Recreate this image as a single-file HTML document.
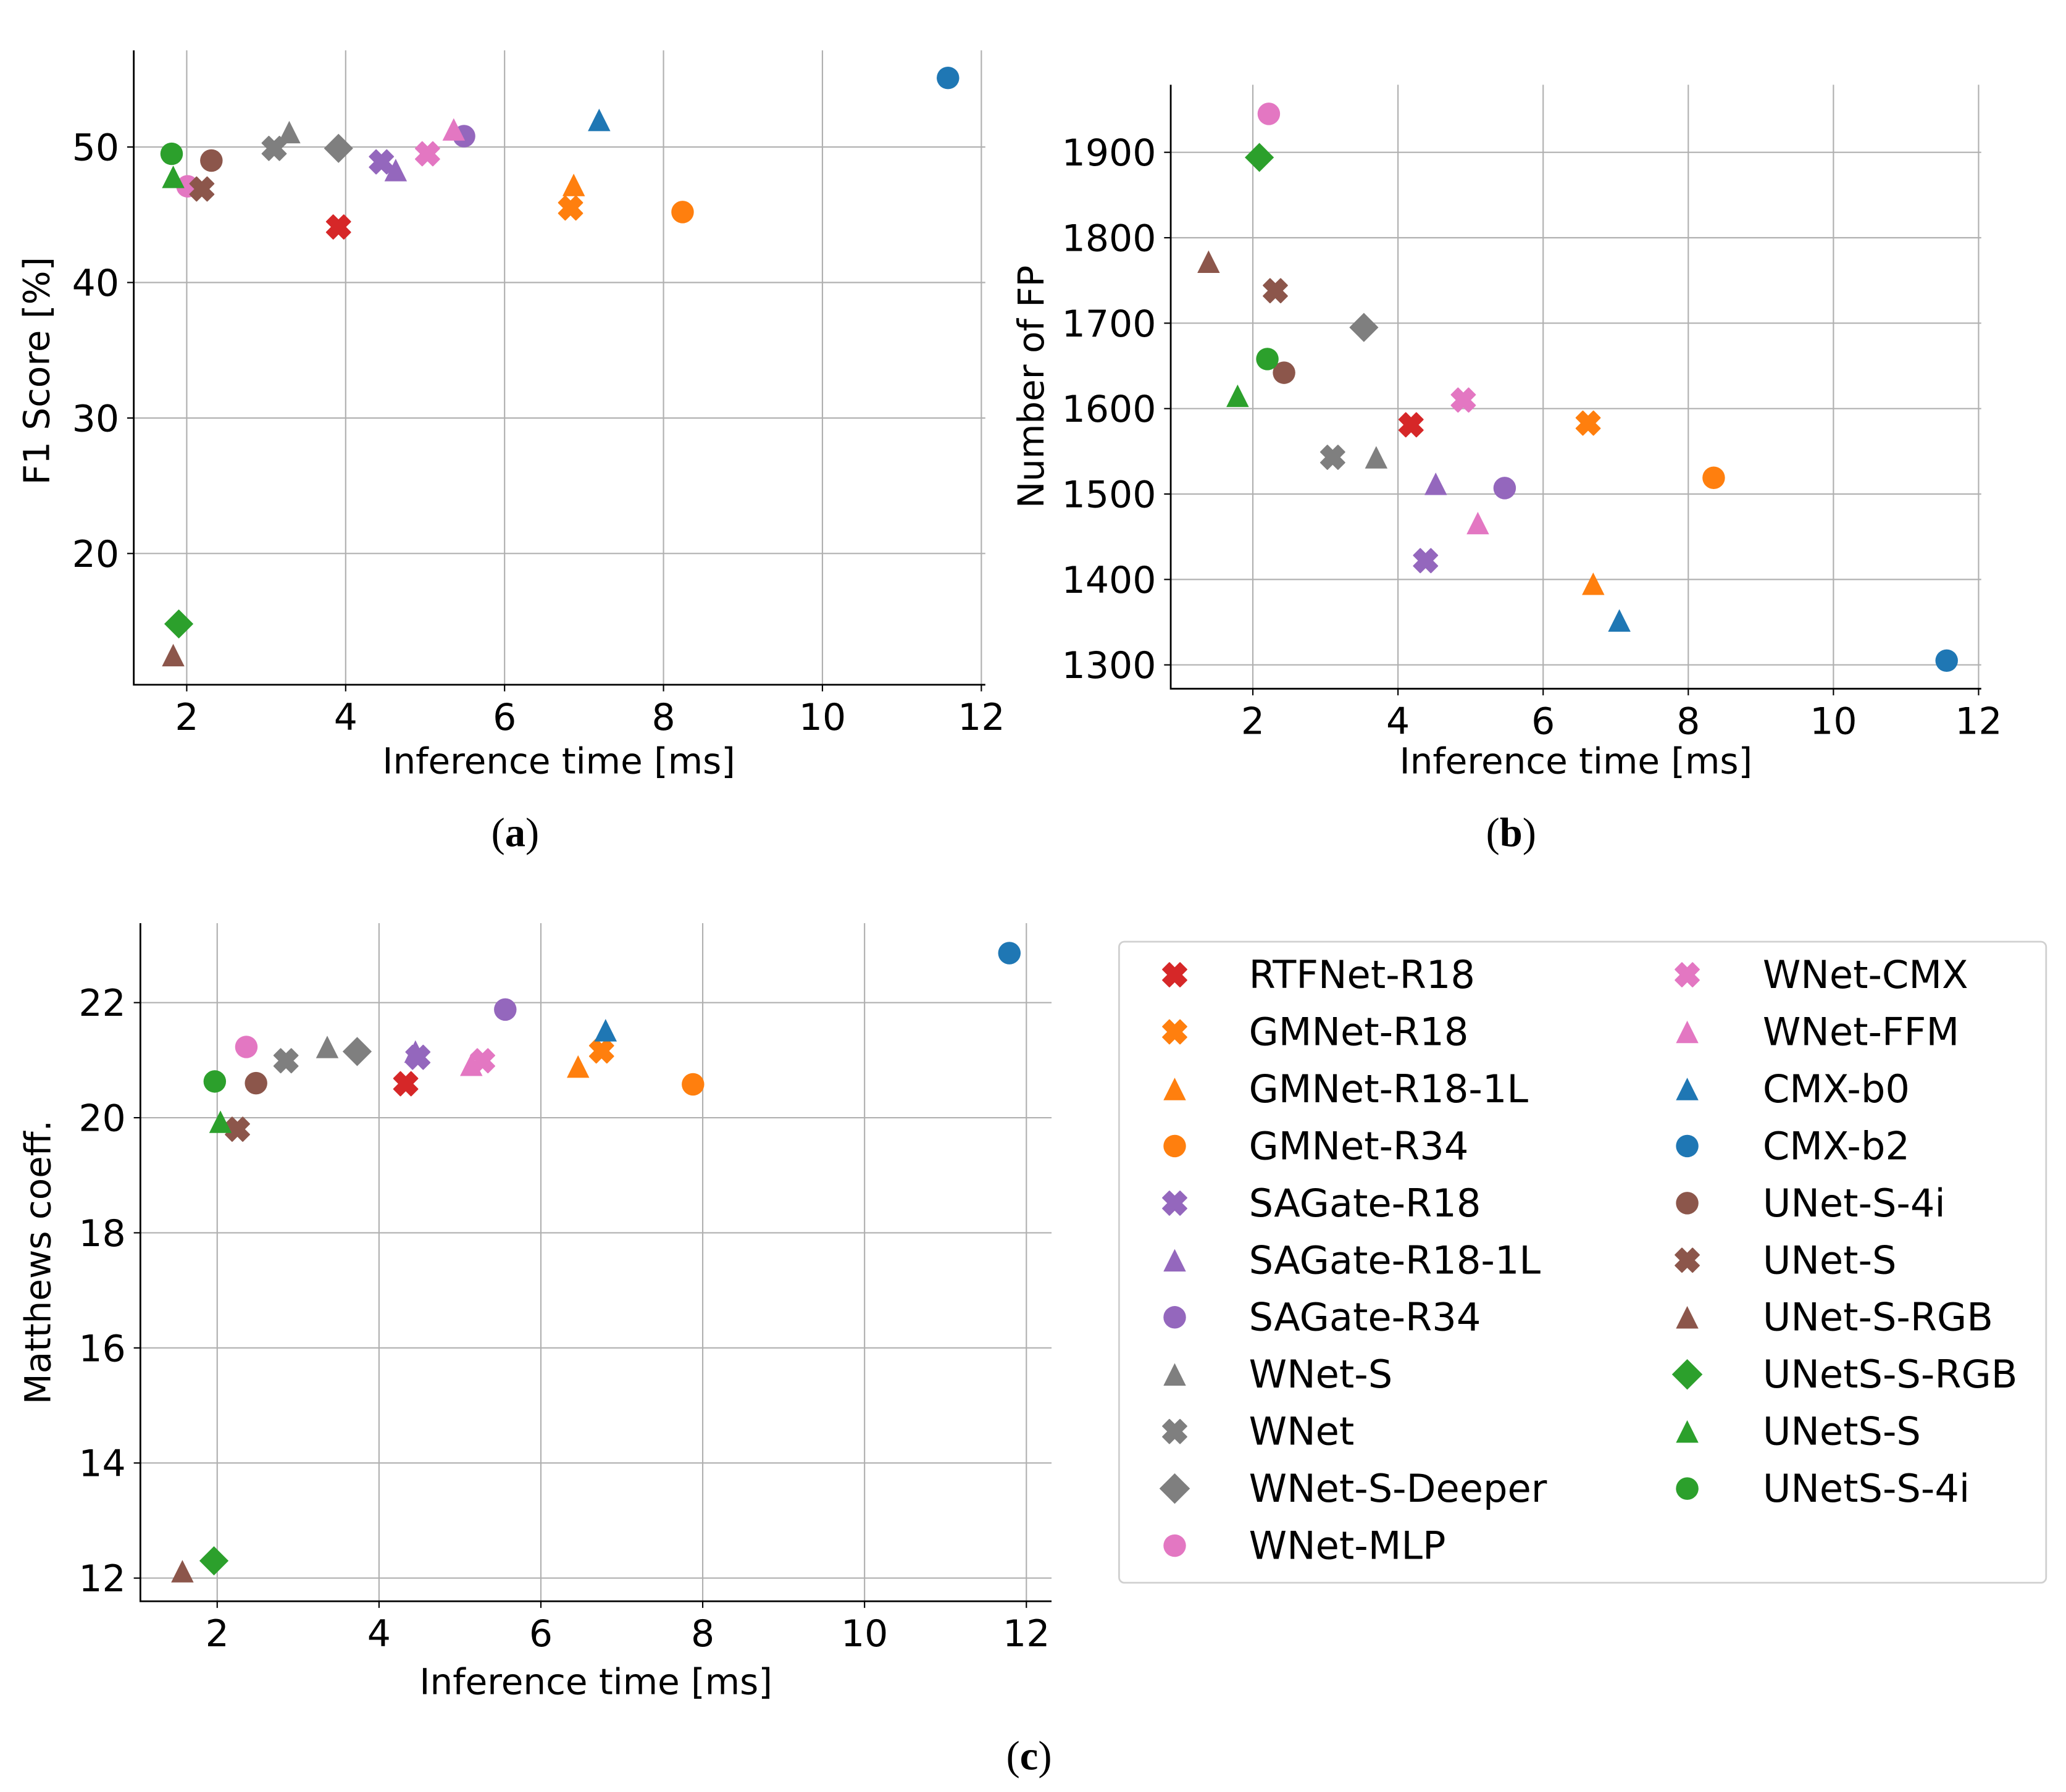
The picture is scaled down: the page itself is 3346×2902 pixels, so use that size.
<!DOCTYPE html>
<html><head><meta charset="utf-8"><style>
html,body{margin:0;padding:0;background:#fff;}
svg{display:block;font-family:"DejaVu Sans","Liberation Sans",sans-serif;}
</style></head><body>
<svg id="fig" width="3346" height="2902" viewBox="0 0 1560 1353" xmlns="http://www.w3.org/2000/svg">
<rect width="1560" height="1353" fill="#fff"/>
<g id="pa"></g>
<g id="pb"></g>
<g id="pc"></g>
<g id="legend"></g>
</svg>
<script>
const models=["RTFNet-R18","GMNet-R18","GMNet-R18-1L","GMNet-R34","SAGate-R18","SAGate-R18-1L","SAGate-R34","WNet-S","WNet","WNet-S-Deeper","WNet-MLP","WNet-CMX","WNet-FFM","CMX-b0","CMX-b2","UNet-S-4i","UNet-S","UNet-S-RGB","UNetS-S-RGB","UNetS-S","UNetS-S-4i"];
const markers=["X","X","^","o","X","^","o","^","X","D","o","X","^","^","o","o","X","^","D","^","o"];
const colors=["#d62728","#ff7f0e","#ff7f0e","#ff7f0e","#9467bd","#9467bd","#9467bd","#7f7f7f","#7f7f7f","#7f7f7f","#e377c2","#e377c2","#e377c2","#1f77b4","#1f77b4","#8c564b","#8c564b","#8c564b","#2ca02c","#2ca02c","#2ca02c"];
const timeA=[3.91,6.83,6.87,8.24,4.45,4.63,5.49,3.29,3.10,3.91,2.01,5.03,5.36,7.19,11.58,2.31,2.19,1.83,1.90,1.83,1.81];
const f1A=[44.1,45.5,47.2,45.2,48.9,48.3,50.8,51.1,49.9,49.9,47.1,49.5,51.3,52.0,55.1,49.0,46.9,12.5,14.8,47.8,49.5];
const timeB=[4.18,6.62,6.69,8.35,4.38,4.52,5.47,3.70,3.10,3.53,2.22,4.90,5.10,7.05,11.56,2.43,2.31,1.39,2.09,1.79,2.20];
const fpB=[1581,1583,1395,1519,1422,1512,1507,1543,1543,1695,1945,1610,1466,1352,1305,1642,1738,1772,1894,1615,1658];
const timeC=[4.33,6.75,6.46,7.88,4.48,4.45,5.56,3.36,2.85,3.73,2.36,5.28,5.14,6.80,11.79,2.48,2.25,1.57,1.96,2.04,1.97];
const mccC=[20.59,21.16,20.89,20.58,21.05,21.15,21.88,21.23,20.99,21.15,21.23,20.99,20.92,21.52,22.86,20.60,19.80,12.12,12.30,19.93,20.63];
const xTicks=[2,4,6,8,10,12];
const yTicksA=[20,30,40,50];
const yTicksB=[1300,1400,1500,1600,1700,1800,1900];
const yTicksC=[12,14,16,18,20,22];

const NS="http://www.w3.org/2000/svg";
function mk(tag,attrs,parent){const e=document.createElementNS(NS,tag);for(const k in attrs)e.setAttribute(k,attrs[k]);parent.appendChild(e);return e;}
function marker(g,m,cx,cy,col,s){
  let e;
  if(m==="o"){e=mk("circle",{cx:cx,cy:cy,r:8.5*s,fill:col},g);}
  else if(m==="^"){const r=8.5*s;e=mk("polygon",{points:`${cx},${cy-r} ${cx-r},${cy+r} ${cx+r},${cy+r}`,fill:col},g);}
  else if(m==="D"){const r=11*s;e=mk("polygon",{points:`${cx},${cy-r} ${cx+r},${cy} ${cx},${cy+r} ${cx-r},${cy}`,fill:col},g);}
  else {const r=9*s,w=5*s;
    const p=[[-r+w,-r],[0,-w],[r-w,-r],[r,-r+w],[w,0],[r,r-w],[r-w,r],[0,w],[-r+w,r],[-r,r-w],[-w,0],[-r,-r+w]];
    e=mk("polygon",{points:p.map(q=>(cx+q[0])+","+(cy+q[1])).join(" "),fill:col,stroke:col,"stroke-width":1,"stroke-linejoin":"round"},g);}
  return e;
}
function panel(gid,cfg){
  const g=document.getElementById(gid);
  const sx=v=>cfg.x0+(v-2)*cfg.xs, sy=v=>cfg.y0+(cfg.yref-v)*cfg.ys;
  xTicks.forEach(t=>{const x=sx(t);
    const l=mk("line",{x1:x,x2:x,y1:cfg.top,y2:cfg.bottom,stroke:"#b0b0b0","stroke-width":1},g);
    
    
    mk("line",{x1:x,x2:x,y1:cfg.bottom,y2:cfg.bottom+5,stroke:"#000","stroke-width":1},g);
    const tx=mk("text",{x:x,y:cfg.bottom+34,"font-size":28,"text-anchor":"middle",fill:"#000"},g);tx.textContent=t;
    
    
  });
  cfg.yt.forEach(t=>{const y=sy(t);
    const l=mk("line",{x1:cfg.left,x2:cfg.right,y1:y,y2:y,stroke:"#b0b0b0","stroke-width":1},g);
    
    
    mk("line",{x1:cfg.left-5,x2:cfg.left,y1:y,y2:y,stroke:"#000","stroke-width":1},g);
    const tx=mk("text",{x:cfg.left-11,y:y+10,"font-size":28,"text-anchor":"end",fill:"#000"},g);tx.textContent=t;
    
    
  });
  const ax=mk("path",{d:`M${cfg.left},${cfg.top} V${cfg.bottom} H${cfg.right}`,stroke:"#000","stroke-width":1.3,fill:"none"},g);
  
  
  for(let i=0;i<models.length;i++){
    const m=marker(g,markers[i],sx(cfg.xv[i]),sy(cfg.yv[i]),colors[i],1);
    
    
  }
  const xl=mk("text",{x:cfg.xlx,y:cfg.xly,"font-size":27,"text-anchor":"middle",fill:"#000"},g);xl.textContent="Inference time [ms]";
  
  
  const yl=mk("text",{x:0,y:0,"font-size":27,"text-anchor":"middle",fill:"#000",transform:`translate(${cfg.ylx},${cfg.yly}) rotate(-90)`},g);yl.textContent=cfg.ylabel;
  
  
  const cp=mk("text",{x:cfg.capx,y:cfg.capy,"font-size":31,"text-anchor":"middle",fill:"#000","font-family":"Liberation Serif, serif"},g);
  cp.innerHTML='(<tspan font-weight="bold">'+cfg.cap+'</tspan>)';
  
  
}
panel("pa",{left:101,right:744,top:38,bottom:517,x0:141,xs:60,y0:111,yref:50,ys:10.23,yt:yTicksA,xv:timeA,yv:f1A,ylabel:"F1 Score [%]",ylx:37,yly:280,xlx:422,xly:584,cap:"a",capx:389,capy:639});
panel("pb",{left:884,right:1496,top:64,bottom:520,x0:946,xs:54.8,y0:115,yref:1900,ys:0.645,yt:yTicksB,xv:timeB,yv:fpB,ylabel:"Number of FP",ylx:788,yly:292,xlx:1190,xly:584,cap:"b",capx:1141,capy:639});
panel("pc",{left:106,right:794,top:697,bottom:1209,x0:164,xs:61.1,y0:757,yref:22,ys:43.45,yt:yTicksC,xv:timeC,yv:mccC,ylabel:"Matthews coeff.",ylx:38,yly:953,xlx:450,xly:1279,cap:"c",capx:777,capy:1336});

(function(){
  const g=document.getElementById("legend");
  const box=mk("rect",{x:845,y:711,width:700,height:484,rx:4,fill:"#fff",stroke:"#d0d0d0","stroke-width":1.3},g);
  
  
  for(let i=0;i<models.length;i++){
    const col=i<11?0:1,row=i<11?i:i-11;
    const y=736+row*43.1;
    const mx=col?1274:887, tx=col?1331:943;
    const e=mk("g",{},g);
    
    
    marker(e,markers[i],mx,y,colors[i],markers[i]==="D"?1.05:1);
    const t=mk("text",{x:tx,y:y+10,"font-size":29,fill:"#000"},e);t.textContent=models[i];
  }
})();
</script>
</body></html>
